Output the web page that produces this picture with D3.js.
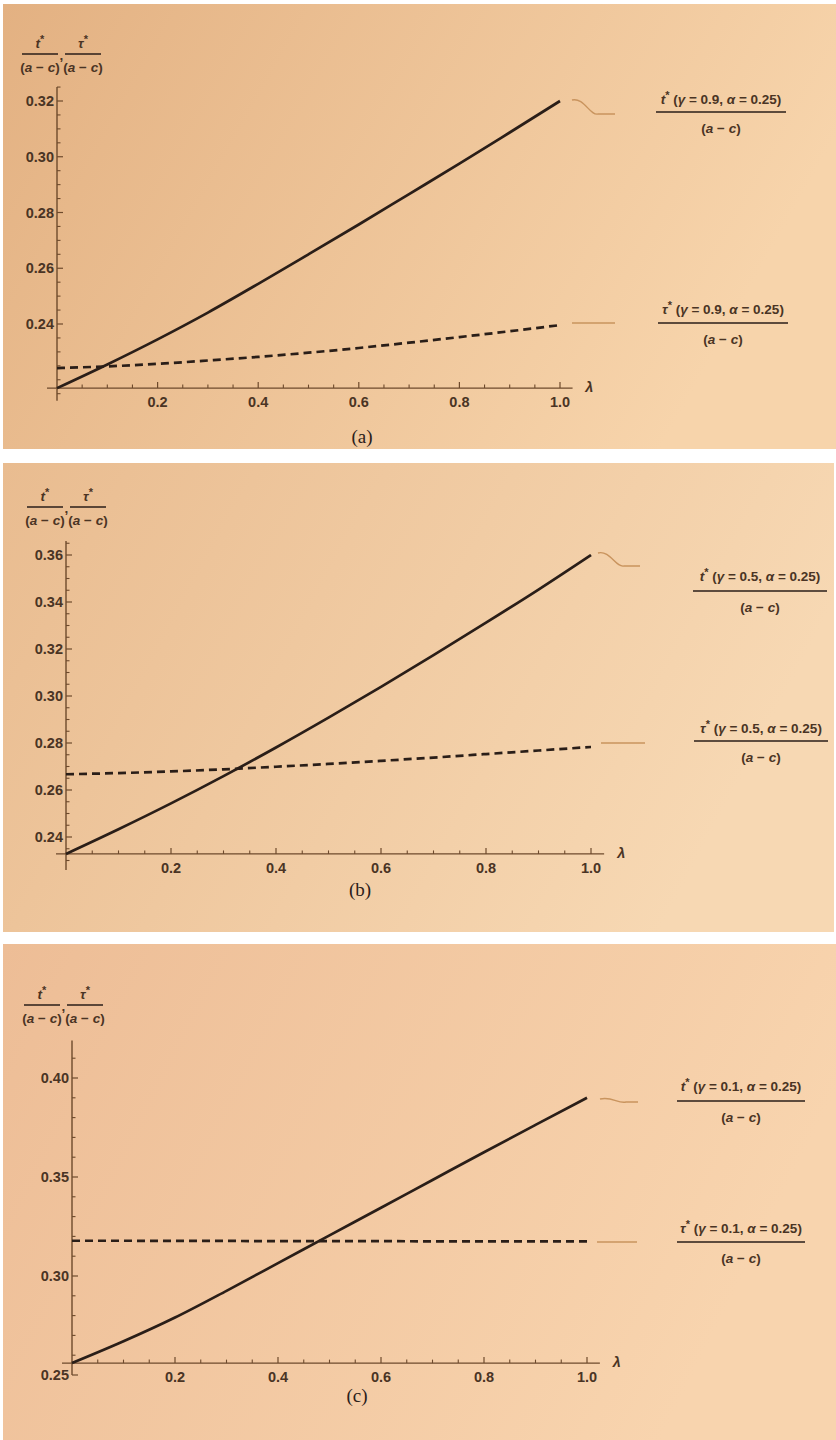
<!DOCTYPE html>
<html>
<head>
<meta charset="utf-8">
<script src="https://cdn.jsdelivr.net/npm/d3@7"></script>
<style>
  body { margin: 0; background: #fff; }
  svg { display: block; }
  .tick-lbl { font-family: "Liberation Sans", Arial, sans-serif; font-weight: 700; font-size: 14.5px; fill: #4a3424; }
  .leg { font-family: "Liberation Sans", Arial, sans-serif; font-weight: 700; font-size: 13.5px; fill: #4a3424; }
  .cap { font-family: "Liberation Serif", "Times New Roman", serif; font-size: 19px; fill: #2b2019; }
</style>
</head>
<body>
<div id="chart"></div>
<script>
// data
var lambdas = [0, 0.1, 0.2, 0.3, 0.4, 0.5, 0.6, 0.7, 0.8, 0.9, 1.0];

// (a) gamma = 0.9
var tA   = [0.217, 0.2255, 0.2345, 0.2441, 0.2544, 0.2650, 0.2757, 0.2866, 0.2975, 0.3087, 0.3200];
var tauA = [0.2242, 0.2248, 0.2257, 0.2269, 0.2282, 0.2297, 0.2314, 0.2333, 0.2353, 0.2374, 0.2396];
// (b) gamma = 0.5
var tB   = [0.2328, 0.2433, 0.2543, 0.2659, 0.2781, 0.2908, 0.3039, 0.3174, 0.3312, 0.3453, 0.3600];
var tauB = [0.2667, 0.2672, 0.2679, 0.2688, 0.2699, 0.2711, 0.2724, 0.2738, 0.2753, 0.2768, 0.2783];
// (c) gamma = 0.1
var tC   = [0.256, 0.2670, 0.2790, 0.2925, 0.3065, 0.3205, 0.3345, 0.3485, 0.3625, 0.3763, 0.3900];
var tauC = [0.3178, 0.3178, 0.3177, 0.3177, 0.3176, 0.3176, 0.3176, 0.3175, 0.3175, 0.3175, 0.3175];

var yTicksA = [0.24, 0.26, 0.28, 0.30, 0.32];
var yTicksB = [0.24, 0.26, 0.28, 0.30, 0.32, 0.34, 0.36];
var yTicksC = [0.25, 0.30, 0.35, 0.40];
var xTicks  = [0.2, 0.4, 0.6, 0.8, 1.0];

var gammas = ["0.9", "0.5", "0.1"];
var captions = ["(a)", "(b)", "(c)"];

var W = 836, H = 1440;
var svg = d3.select("#chart").append("svg").attr("width", W).attr("height", H);
var defs = svg.append("defs");

var panels = [
  { top: 4, bottom: 449, right: 836, bgL: "#e3b182", bgR: "#f7d4ab",
    x0: 57, x1: 560, yv: [0.24, 0.32], yp: [324, 101], yMin: 0.2125, yMax: 0.325, xAxisAt: 0.217,
    minorY: 0.005, t: tA, tau: tauA, yTicks: yTicksA,
    lab: {tx: 40, bar: 54},
    legT: {cx: 721, ty: 104, bar: 112, w: 130, wave: [572, 100, 615, 114]},
    legTau: {cx: 723, ty: 314, bar: 323, w: 130, line: [572, 615, 323]},
    cap: [362, 443] },
  { top: 463, bottom: 932, right: 834, bgL: "#e9bc90", bgR: "#f7d8b3",
    x0: 66, x1: 591, yv: [0.24, 0.36], yp: [837, 555], yMin: 0.226, yMax: 0.366, xAxisAt: 0.2328,
    minorY: 0.005, t: tB, tau: tauB, yTicks: yTicksB,
    lab: {tx: 45, bar: 507},
    legT: {cx: 760, ty: 581, bar: 591, w: 134, wave: [598, 553, 640, 566]},
    legTau: {cx: 761, ty: 733, bar: 741, w: 134, line: [601, 645, 743]},
    cap: [360, 896] },
  { top: 944, bottom: 1440, right: 836, bgL: "#edbd96", bgR: "#f8d4ae",
    x0: 72, x1: 587, yv: [0.25, 0.40], yp: [1375, 1078], yMin: 0.25, yMax: 0.419, xAxisAt: 0.256,
    minorY: 0.01, t: tC, tau: tauC, yTicks: yTicksC,
    lab: {tx: 42, bar: 1005},
    legT: {cx: 741, ty: 1091, bar: 1101, w: 128, wave: [600, 1099, 638, 1102]},
    legTau: {cx: 741, ty: 1233, bar: 1242, w: 128, line: [597, 637, 1242]},
    cap: [357, 1402] }
];

var ink = "#2a1e18", axisCol = "#6e4a2c", legLine = "#c9945e";

panels.forEach(function(p, i) {
  var grad = defs.append("linearGradient").attr("id", "bg" + i)
    .attr("x1", "0%").attr("x2", "100%").attr("y1", "0%").attr("y2", "30%");
  grad.append("stop").attr("offset", "0%").attr("stop-color", p.bgL);
  grad.append("stop").attr("offset", "100%").attr("stop-color", p.bgR);

  svg.append("rect").attr("x", 3).attr("y", p.top)
    .attr("width", p.right - 3).attr("height", p.bottom - p.top)
    .attr("fill", "url(#bg" + i + ")");

  var g = svg.append("g");

  var x = d3.scaleLinear().domain([0, 1]).range([p.x0, p.x1]);
  var y = d3.scaleLinear().domain(p.yv).range(p.yp);
  var yAx = y(p.xAxisAt);

  // axes lines
  g.append("line").attr("x1", p.x0 - 10).attr("x2", x(1.025)).attr("y1", yAx).attr("y2", yAx)
    .attr("stroke", axisCol).attr("stroke-width", 1.4);
  g.append("line").attr("x1", p.x0).attr("x2", p.x0).attr("y1", y(p.yMin)).attr("y2", y(p.yMax))
    .attr("stroke", axisCol).attr("stroke-width", 1.4);

  // x ticks
  var xMinor = d3.range(0.05, 1.001, 0.05).filter(function(v) { return Math.abs(v * 5 - Math.round(v * 5)) > 1e-6; });
  g.selectAll(".xmin").data(xMinor).enter().append("line")
    .attr("x1", function(d) { return x(d); }).attr("x2", function(d) { return x(d); })
    .attr("y1", yAx).attr("y2", yAx - 3.5).attr("stroke", axisCol).attr("stroke-width", 1.1);
  g.selectAll(".xmaj").data(xTicks).enter().append("line")
    .attr("x1", function(d) { return x(d); }).attr("x2", function(d) { return x(d); })
    .attr("y1", yAx).attr("y2", yAx - 6).attr("stroke", axisCol).attr("stroke-width", 1.2);
  g.selectAll(".xl").data(xTicks).enter().append("text").attr("class", "tick-lbl")
    .attr("x", function(d) { return x(d); }).attr("y", yAx + 19)
    .attr("text-anchor", "middle").text(function(d) { return d3.format(".1f")(d); });
  g.append("text").attr("class", "tick-lbl").attr("x", x(1.05)).attr("y", yAx + 4)
    .style("font-style", "italic").text("λ");

  // y ticks
  var yMinor = [];
  var start = Math.ceil(p.yMin / p.minorY - 1e-6) * p.minorY;
  for (var v = start; v <= p.yMax + 1e-9; v += p.minorY) yMinor.push(+v.toFixed(4));
  yMinor = yMinor.filter(function(v) { return p.yTicks.indexOf(v) < 0; });
  g.selectAll(".ymin").data(yMinor).enter().append("line")
    .attr("x1", p.x0).attr("x2", p.x0 + 3.5)
    .attr("y1", function(d) { return y(d); }).attr("y2", function(d) { return y(d); })
    .attr("stroke", axisCol).attr("stroke-width", 1.1);
  g.selectAll(".ymaj").data(p.yTicks).enter().append("line")
    .attr("x1", p.x0).attr("x2", p.x0 + 6)
    .attr("y1", function(d) { return y(d); }).attr("y2", function(d) { return y(d); })
    .attr("stroke", axisCol).attr("stroke-width", 1.2);
  g.selectAll(".yl").data(p.yTicks).enter().append("text").attr("class", "tick-lbl")
    .attr("x", p.x0 - 3).attr("y", function(d) { return y(d) + 5; })
    .attr("text-anchor", "end").text(function(d) { return d3.format(".2f")(d); });

  // y axis label: t*/(a-c), tau*/(a-c)
  function aMinusC(sel, cx, yb) {
    var b = sel.append("text").attr("class", "leg").attr("x", cx).attr("y", yb).attr("text-anchor", "middle");
    b.append("tspan").text("(");
    b.append("tspan").style("font-style", "italic").text("a");
    b.append("tspan").text(" − ");
    b.append("tspan").style("font-style", "italic").text("c");
    b.append("tspan").text(")");
  }
  function frac(cx, sym) {
    var t = g.append("text").attr("class", "leg").attr("x", cx).attr("y", p.lab.bar - 6).attr("text-anchor", "middle");
    t.append("tspan").style("font-style", "italic").text(sym);
    t.append("tspan").attr("dy", -5).style("font-size", "11px").text("*");
    g.append("line").attr("x1", cx - 18).attr("x2", cx + 18).attr("y1", p.lab.bar).attr("y2", p.lab.bar)
      .attr("stroke", ink).attr("stroke-width", 1.3);
    aMinusC(g, cx, p.lab.bar + 18);
  }
  frac(p.lab.tx, "t");
  frac(p.lab.tx + 43, "τ");
  g.append("text").attr("class", "leg").attr("x", p.lab.tx + 19.5).attr("y", p.lab.bar + 6).text(",");

  // curves
  var line = d3.line().x(function(d, k) { return x(lambdas[k]); }).y(function(d) { return y(d); })
    .curve(d3.curveMonotoneX);
  g.append("path").attr("d", line(p.t)).attr("fill", "none")
    .attr("stroke", ink).attr("stroke-width", 2.7);
  g.append("path").attr("d", line(p.tau)).attr("fill", "none")
    .attr("stroke", ink).attr("stroke-width", 2.7).attr("stroke-dasharray", "8,5");

  // legend callouts
  var w = p.legT.wave;
  g.append("path")
    .attr("d", "M" + w[0] + "," + w[1] + " C" + (w[0] + 12) + "," + (w[1] - 3) + " " + (w[0] + 18) + "," + (w[3] + 2) + " " + (w[0] + 26) + "," + w[3]
      + " L" + w[2] + "," + w[3])
    .attr("fill", "none").attr("stroke", legLine).attr("stroke-width", 1.4);
  var l = p.legTau.line;
  g.append("line").attr("x1", l[0]).attr("x2", l[1]).attr("y1", l[2]).attr("y2", l[2])
    .attr("stroke", legLine).attr("stroke-width", 1.4);

  function legend(o, sym) {
    var t = g.append("text").attr("class", "leg").attr("x", o.cx).attr("y", o.ty).attr("text-anchor", "middle");
    t.append("tspan").style("font-style", "italic").text(sym);
    t.append("tspan").attr("dy", -5).style("font-size", "11px").text("*");
    t.append("tspan").attr("dy", 5).text(" (");
    t.append("tspan").style("font-style", "italic").text("γ");
    t.append("tspan").text(" = " + gammas[i] + ", ");
    t.append("tspan").style("font-style", "italic").text("α");
    t.append("tspan").text(" = 0.25)");
    g.append("line").attr("x1", o.cx - o.w / 2).attr("x2", o.cx + o.w / 2).attr("y1", o.bar).attr("y2", o.bar)
      .attr("stroke", ink).attr("stroke-width", 1.3);
    aMinusC(g, o.cx, o.bar + 21);
  }
  legend(p.legT, "t");
  legend(p.legTau, "τ");

  g.append("text").attr("class", "cap").attr("x", p.cap[0]).attr("y", p.cap[1])
    .attr("text-anchor", "middle").text(captions[i]);
});
</script>
</body>
</html>
